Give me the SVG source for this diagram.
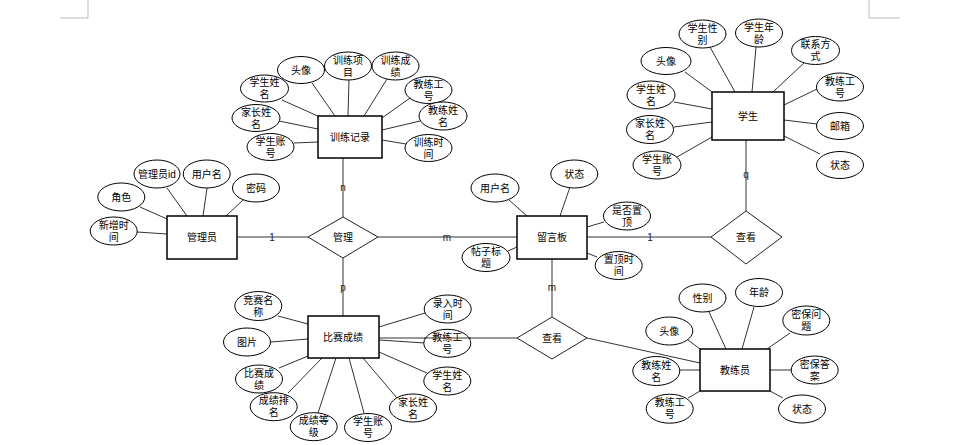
<svg xmlns="http://www.w3.org/2000/svg" width="966" height="445" viewBox="0 0 966 445">
<style>
.ent{fill:#fff;stroke:#000;stroke-width:1.5}
.att{fill:#fff;stroke:#000;stroke-width:1}
.rel{fill:#fff;stroke:#222;stroke-width:1}
.ln{stroke:#333;stroke-width:1;fill:none}
.mk{stroke:#bbb;stroke-width:1;fill:none}
text{font-family:"Liberation Sans","Noto Sans CJK SC",sans-serif;font-size:10px;fill:#000;text-anchor:middle}
.lb{font-family:"Liberation Sans",sans-serif;font-size:10px;fill:#222}
</style>
<rect width="966" height="445" fill="#fff"/>
<path class="mk" d="M60 18H88V0M869 0V18H900"/>
<g id="connectors">
<line class="ln" x1="237" y1="237" x2="308" y2="237"/>
<line class="ln" x1="378" y1="237" x2="517" y2="237"/>
<line class="ln" x1="343" y1="158" x2="343" y2="217"/>
<line class="ln" x1="343" y1="258" x2="343" y2="316"/>
<line class="ln" x1="587" y1="237" x2="711" y2="237"/>
<line class="ln" x1="746" y1="140" x2="746" y2="211"/>
<line class="ln" x1="552" y1="259" x2="552" y2="317"/>
<line class="ln" x1="379" y1="338" x2="517" y2="338"/>
<line class="ln" x1="587" y1="338" x2="700" y2="363"/>
<line class="ln" x1="282" y1="100" x2="320" y2="117"/>
<line class="ln" x1="312" y1="83" x2="335" y2="116"/>
<line class="ln" x1="349" y1="80" x2="348" y2="116"/>
<line class="ln" x1="387" y1="79" x2="364" y2="116"/>
<line class="ln" x1="410" y1="98" x2="382" y2="118"/>
<line class="ln" x1="420" y1="121" x2="382" y2="130"/>
<line class="ln" x1="406" y1="144" x2="382" y2="140"/>
<line class="ln" x1="279" y1="121" x2="318" y2="129"/>
<line class="ln" x1="294" y1="143" x2="318" y2="142"/>
<line class="ln" x1="710" y1="47" x2="735" y2="92"/>
<line class="ln" x1="756" y1="47" x2="752" y2="92"/>
<line class="ln" x1="804" y1="63" x2="773" y2="92"/>
<line class="ln" x1="685" y1="72" x2="712" y2="92"/>
<line class="ln" x1="817" y1="89" x2="784" y2="105"/>
<line class="ln" x1="817" y1="124" x2="784" y2="120"/>
<line class="ln" x1="820" y1="154" x2="784" y2="136"/>
<line class="ln" x1="674" y1="102" x2="712" y2="109"/>
<line class="ln" x1="674" y1="127" x2="712" y2="122"/>
<line class="ln" x1="677" y1="157" x2="712" y2="137"/>
<line class="ln" x1="167" y1="188" x2="187" y2="216"/>
<line class="ln" x1="207" y1="188" x2="203" y2="216"/>
<line class="ln" x1="243" y1="200" x2="226" y2="216"/>
<line class="ln" x1="140" y1="207" x2="167" y2="219"/>
<line class="ln" x1="137" y1="232" x2="167" y2="234"/>
<line class="ln" x1="509" y1="200" x2="527" y2="216"/>
<line class="ln" x1="570" y1="187" x2="560" y2="216"/>
<line class="ln" x1="604" y1="222" x2="587" y2="227"/>
<line class="ln" x1="597" y1="257" x2="587" y2="253"/>
<line class="ln" x1="508" y1="251" x2="517" y2="247"/>
<line class="ln" x1="278" y1="316" x2="308" y2="324"/>
<line class="ln" x1="271" y1="342" x2="308" y2="339"/>
<line class="ln" x1="279" y1="368" x2="308" y2="356"/>
<line class="ln" x1="288" y1="393" x2="322" y2="358"/>
<line class="ln" x1="318" y1="413" x2="336" y2="358"/>
<line class="ln" x1="364" y1="413" x2="349" y2="358"/>
<line class="ln" x1="397" y1="398" x2="363" y2="358"/>
<line class="ln" x1="427" y1="373" x2="379" y2="352"/>
<line class="ln" x1="425" y1="343" x2="379" y2="340"/>
<line class="ln" x1="425" y1="313" x2="379" y2="327"/>
<line class="ln" x1="709" y1="312" x2="726" y2="349"/>
<line class="ln" x1="754" y1="307" x2="742" y2="349"/>
<line class="ln" x1="790" y1="333" x2="767" y2="349"/>
<line class="ln" x1="688" y1="340" x2="700" y2="349"/>
<line class="ln" x1="791" y1="370" x2="770" y2="370"/>
<line class="ln" x1="783" y1="398" x2="770" y2="391"/>
<line class="ln" x1="680" y1="370" x2="700" y2="370"/>
<line class="ln" x1="688" y1="398" x2="700" y2="391"/>
<text class="lb" x="272" y="241">1</text>
<text class="lb" x="447" y="241">m</text>
<text class="lb" x="343" y="191">n</text>
<text class="lb" x="343" y="291">p</text>
<text class="lb" x="650" y="241">1</text>
<text class="lb" x="746" y="178">q</text>
<text class="lb" x="552" y="291">m</text>
</g>
<g id="训练记录"><rect class="ent" x="318" y="116" width="64" height="42"/><text x="350" y="140.5">训练记录</text></g>
<g id="学生"><rect class="ent" x="712" y="92" width="72" height="48"/><text x="748" y="119.5">学生</text></g>
<g id="管理员"><rect class="ent" x="167" y="216" width="70" height="43"/><text x="202" y="240.5">管理员</text></g>
<g id="留言板"><rect class="ent" x="517" y="216" width="70" height="43"/><text x="552" y="240.5">留言板</text></g>
<g id="比赛成绩"><rect class="ent" x="308" y="316" width="71" height="42"/><text x="343" y="340.5">比赛成绩</text></g>
<g id="教练员"><rect class="ent" x="700" y="349" width="70" height="42"/><text x="735" y="373.5">教练员</text></g>
<g id="管理"><polygon class="rel" points="343,217 378,237 343,258 308,237"/><text x="343" y="240.5">管理</text></g>
<g id="查看1"><polygon class="rel" points="746,211 782,237 746,264 711,237"/><text x="746" y="240.5">查看</text></g>
<g id="查看2"><polygon class="rel" points="552,317 587,338 552,359 517,338"/><text x="552" y="341.5">查看</text></g>
<g id="tr-学生姓名"><ellipse class="att" cx="264.5" cy="88.5" rx="24" ry="13.5"/><text x="264.5" y="86">学生姓<tspan x="264.5" dy="12">名</tspan></text></g>
<g id="tr-头像"><ellipse class="att" cx="301" cy="70" rx="23.5" ry="13.5"/><text x="301" y="73.5">头像</text></g>
<g id="tr-训练项目"><ellipse class="att" cx="348" cy="66" rx="23.5" ry="14"/><text x="348" y="63.5">训练项<tspan x="348" dy="12">目</tspan></text></g>
<g id="tr-训练成绩"><ellipse class="att" cx="395.5" cy="66" rx="23.5" ry="14"/><text x="395.5" y="63.5">训练成<tspan x="395.5" dy="12">绩</tspan></text></g>
<g id="tr-教练工号"><ellipse class="att" cx="428.5" cy="90" rx="23.5" ry="13.5"/><text x="428.5" y="87.5">教练工<tspan x="428.5" dy="12">号</tspan></text></g>
<g id="tr-教练姓名"><ellipse class="att" cx="443" cy="116" rx="24" ry="14"/><text x="443" y="113.5">教练姓<tspan x="443" dy="12">名</tspan></text></g>
<g id="tr-训练时间"><ellipse class="att" cx="428.5" cy="148" rx="23.5" ry="13.5"/><text x="428.5" y="145.5">训练时<tspan x="428.5" dy="12">间</tspan></text></g>
<g id="tr-家长姓名"><ellipse class="att" cx="256" cy="118" rx="24" ry="13.5"/><text x="256" y="115.5">家长姓<tspan x="256" dy="12">名</tspan></text></g>
<g id="tr-学生账号"><ellipse class="att" cx="270.5" cy="147" rx="23.5" ry="13.5"/><text x="270.5" y="144.5">学生账<tspan x="270.5" dy="12">号</tspan></text></g>
<g id="st-学生性别"><ellipse class="att" cx="702.5" cy="34" rx="23.5" ry="14"/><text x="702.5" y="31.5">学生性<tspan x="702.5" dy="12">别</tspan></text></g>
<g id="st-学生年龄"><ellipse class="att" cx="759" cy="33" rx="23.5" ry="14"/><text x="759" y="30.5">学生年<tspan x="759" dy="12">龄</tspan></text></g>
<g id="st-联系方式"><ellipse class="att" cx="815.5" cy="50.5" rx="24" ry="14"/><text x="815.5" y="48">联系方<tspan x="815.5" dy="12">式</tspan></text></g>
<g id="st-头像"><ellipse class="att" cx="666" cy="61" rx="25" ry="13.5"/><text x="666" y="64.5">头像</text></g>
<g id="st-教练工号"><ellipse class="att" cx="840" cy="87" rx="23.5" ry="14"/><text x="840" y="84.5">教练工<tspan x="840" dy="12">号</tspan></text></g>
<g id="st-邮箱"><ellipse class="att" cx="840" cy="126" rx="23.5" ry="13.5"/><text x="840" y="129.5">邮箱</text></g>
<g id="st-状态"><ellipse class="att" cx="840" cy="165" rx="23.5" ry="13.5"/><text x="840" y="168.5">状态</text></g>
<g id="st-学生姓名"><ellipse class="att" cx="651" cy="95" rx="24" ry="14"/><text x="651" y="92.5">学生姓<tspan x="651" dy="12">名</tspan></text></g>
<g id="st-家长姓名"><ellipse class="att" cx="650" cy="129.5" rx="23.5" ry="14"/><text x="650" y="127">家长姓<tspan x="650" dy="12">名</tspan></text></g>
<g id="st-学生账号"><ellipse class="att" cx="657" cy="165" rx="24" ry="14"/><text x="657" y="162.5">学生账<tspan x="657" dy="12">号</tspan></text></g>
<g id="ad-管理员id"><ellipse class="att" cx="157" cy="174" rx="23" ry="14"/><text x="157" y="177.5">管理员id</text></g>
<g id="ad-用户名"><ellipse class="att" cx="206.7" cy="174" rx="23.5" ry="14"/><text x="206.7" y="177.5">用户名</text></g>
<g id="ad-密码"><ellipse class="att" cx="256" cy="188" rx="23.5" ry="14"/><text x="256" y="191.5">密码</text></g>
<g id="ad-角色"><ellipse class="att" cx="121.3" cy="197" rx="23.5" ry="14"/><text x="121.3" y="200.5">角色</text></g>
<g id="ad-新增时间"><ellipse class="att" cx="113.7" cy="231" rx="23.5" ry="14"/><text x="113.7" y="228.5">新增时<tspan x="113.7" dy="12">间</tspan></text></g>
<g id="mb-用户名"><ellipse class="att" cx="495" cy="188" rx="24" ry="14"/><text x="495" y="191.5">用户名</text></g>
<g id="mb-状态"><ellipse class="att" cx="574.3" cy="174" rx="23.5" ry="14"/><text x="574.3" y="177.5">状态</text></g>
<g id="mb-是否置顶"><ellipse class="att" cx="627" cy="216" rx="23.5" ry="14"/><text x="627" y="213.5">是否置<tspan x="627" dy="12">顶</tspan></text></g>
<g id="mb-置顶时间"><ellipse class="att" cx="618.7" cy="265.5" rx="23.5" ry="14"/><text x="618.7" y="263">置顶时<tspan x="618.7" dy="12">间</tspan></text></g>
<g id="mb-帖子标题"><ellipse class="att" cx="486" cy="257.5" rx="24" ry="14"/><text x="486" y="255">帖子标<tspan x="486" dy="12">题</tspan></text></g>
<g id="cs-竞赛名称"><ellipse class="att" cx="258.3" cy="306" rx="23.5" ry="14.5"/><text x="258.3" y="303.5">竞赛名<tspan x="258.3" dy="12">称</tspan></text></g>
<g id="cs-图片"><ellipse class="att" cx="247" cy="342" rx="23.5" ry="14"/><text x="247" y="345.5">图片</text></g>
<g id="cs-比赛成绩"><ellipse class="att" cx="259" cy="379" rx="23.5" ry="14"/><text x="259" y="376.5">比赛成<tspan x="259" dy="12">绩</tspan></text></g>
<g id="cs-成绩排名"><ellipse class="att" cx="273.7" cy="406.7" rx="23.5" ry="14"/><text x="273.7" y="404.2">成绩排<tspan x="273.7" dy="12">名</tspan></text></g>
<g id="cs-成绩等级"><ellipse class="att" cx="313.7" cy="426.7" rx="23.5" ry="14"/><text x="313.7" y="424.2">成绩等<tspan x="313.7" dy="12">级</tspan></text></g>
<g id="cs-学生账号"><ellipse class="att" cx="368" cy="427.5" rx="23.5" ry="14"/><text x="368" y="425">学生账<tspan x="368" dy="12">号</tspan></text></g>
<g id="cs-家长姓名"><ellipse class="att" cx="413" cy="408" rx="23.5" ry="14"/><text x="413" y="405.5">家长姓<tspan x="413" dy="12">名</tspan></text></g>
<g id="cs-学生姓名"><ellipse class="att" cx="447.3" cy="381" rx="23.5" ry="14"/><text x="447.3" y="378.5">学生姓<tspan x="447.3" dy="12">名</tspan></text></g>
<g id="cs-教练工号"><ellipse class="att" cx="447.3" cy="343.3" rx="23.5" ry="14"/><text x="447.3" y="340.8">教练工<tspan x="447.3" dy="12">号</tspan></text></g>
<g id="cs-录入时间"><ellipse class="att" cx="447.7" cy="309" rx="23.5" ry="14"/><text x="447.7" y="306.5">录入时<tspan x="447.7" dy="12">间</tspan></text></g>
<g id="co-性别"><ellipse class="att" cx="702.5" cy="298" rx="23.5" ry="14"/><text x="702.5" y="301.5">性别</text></g>
<g id="co-年龄"><ellipse class="att" cx="759" cy="292.5" rx="23.5" ry="14"/><text x="759" y="296">年龄</text></g>
<g id="co-密保问题"><ellipse class="att" cx="806.3" cy="320.5" rx="23.5" ry="14.5"/><text x="806.3" y="318">密保问<tspan x="806.3" dy="12">题</tspan></text></g>
<g id="co-头像"><ellipse class="att" cx="669.3" cy="331" rx="23.5" ry="14"/><text x="669.3" y="334.5">头像</text></g>
<g id="co-密保答案"><ellipse class="att" cx="814.7" cy="370" rx="23.5" ry="14"/><text x="814.7" y="367.5">密保答<tspan x="814.7" dy="12">案</tspan></text></g>
<g id="co-状态"><ellipse class="att" cx="802" cy="409" rx="23.5" ry="14"/><text x="802" y="412.5">状态</text></g>
<g id="co-教练姓名"><ellipse class="att" cx="656.3" cy="371" rx="23.5" ry="14.5"/><text x="656.3" y="368.5">教练姓<tspan x="656.3" dy="12">名</tspan></text></g>
<g id="co-教练工号"><ellipse class="att" cx="669.7" cy="408.7" rx="23.5" ry="14.5"/><text x="669.7" y="406.2">教练工<tspan x="669.7" dy="12">号</tspan></text></g>
<line class="ln" x1="424" y1="338" x2="471" y2="338"/>
</svg>
